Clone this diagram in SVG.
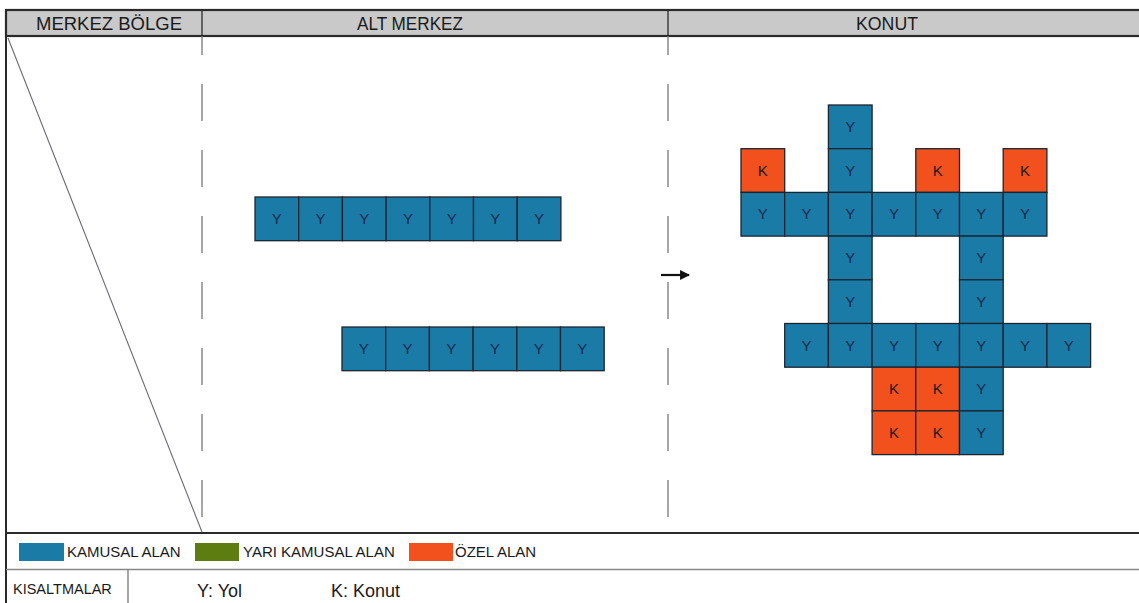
<svg xmlns="http://www.w3.org/2000/svg" width="1139" height="603" viewBox="0 0 1139 603">
<defs>
<style>
.hdr{fill:#c9c9c9;stroke:#2a2a2a;stroke-width:2.2}
.ht{font-family:"Liberation Sans",Arial,sans-serif;font-size:18px;fill:#1a1a1a;text-anchor:middle}
.frame{fill:none;stroke:#2a2a2a;stroke-width:2}
.dash{stroke:#777;stroke-width:1.3;stroke-dasharray:37 29;stroke-dashoffset:18;fill:none}
.y rect{fill:#1b7ba7;stroke:#1b2530;stroke-width:1.3}
.k rect{fill:#f2501d;stroke:#1b2530;stroke-width:1.3}
.y text{font-family:"Liberation Sans",Arial,sans-serif;font-size:15px;fill:#13284d;text-anchor:middle}
.k text{font-family:"Liberation Sans",Arial,sans-serif;font-size:15px;fill:#1a1a1a;text-anchor:middle}
.lt{font-family:"Liberation Sans",Arial,sans-serif;font-size:15px;fill:#1a1a1a}
.bt{font-family:"Liberation Sans",Arial,sans-serif;font-size:18px;fill:#1a1a1a}
</style>
<marker id="ah" viewBox="0 0 10 10" refX="9" refY="5" markerWidth="4.5" markerHeight="4.5" orient="auto">
<path d="M0,0 L10,5 L0,10 z" fill="#111"/>
</marker>
</defs>
<rect width="1139" height="603" fill="#ffffff"/>

<g id="header">
<rect class="hdr" x="6" y="10" width="1140" height="26"/>
<line x1="202" y1="10" x2="202" y2="36" stroke="#2a2a2a" stroke-width="1.3"/>
<line x1="668" y1="10" x2="668" y2="36" stroke="#2a2a2a" stroke-width="1.3"/>
<text class="ht" x="109" y="30" textLength="146" lengthAdjust="spacingAndGlyphs">MERKEZ BÖLGE</text>
<text class="ht" x="410" y="30" textLength="106" lengthAdjust="spacingAndGlyphs">ALT MERKEZ</text>
<text class="ht" x="887" y="30" textLength="62" lengthAdjust="spacingAndGlyphs">KONUT</text>
</g>

<g id="frame">
<line class="frame" x1="6" y1="36" x2="6" y2="603"/>
<line x1="5" y1="533" x2="1139" y2="533" stroke="#2a2a2a" stroke-width="2.2"/>
<line x1="6" y1="569.5" x2="1139" y2="569.5" stroke="#888" stroke-width="1.5"/>
<line x1="128" y1="569.5" x2="128" y2="603" stroke="#777" stroke-width="1.3"/>
<line x1="8" y1="38" x2="202" y2="532" stroke="#6a6a70" stroke-width="1.1"/>
<line class="dash" x1="202" y1="36" x2="202" y2="533"/>
<line class="dash" x1="668" y1="36" x2="668" y2="533"/>
</g>

<g id="alt-merkez-row1">
<g class="y"><rect x="255" y="197" width="43.7" height="43.7"/><text x="276.85" y="224">Y</text></g>
<g class="y"><rect x="298.7" y="197" width="43.7" height="43.7"/><text x="320.55" y="224">Y</text></g>
<g class="y"><rect x="342.4" y="197" width="43.7" height="43.7"/><text x="364.25" y="224">Y</text></g>
<g class="y"><rect x="386.1" y="197" width="43.7" height="43.7"/><text x="407.95" y="224">Y</text></g>
<g class="y"><rect x="429.8" y="197" width="43.7" height="43.7"/><text x="451.65" y="224">Y</text></g>
<g class="y"><rect x="473.5" y="197" width="43.7" height="43.7"/><text x="495.35" y="224">Y</text></g>
<g class="y"><rect x="517.2" y="197" width="43.7" height="43.7"/><text x="539.05" y="224">Y</text></g>
</g>

<g id="alt-merkez-row2">
<g class="y"><rect x="342" y="327" width="43.7" height="43.7"/><text x="363.85" y="354">Y</text></g>
<g class="y"><rect x="385.7" y="327" width="43.7" height="43.7"/><text x="407.55" y="354">Y</text></g>
<g class="y"><rect x="429.4" y="327" width="43.7" height="43.7"/><text x="451.25" y="354">Y</text></g>
<g class="y"><rect x="473.1" y="327" width="43.7" height="43.7"/><text x="494.95" y="354">Y</text></g>
<g class="y"><rect x="516.8" y="327" width="43.7" height="43.7"/><text x="538.65" y="354">Y</text></g>
<g class="y"><rect x="560.5" y="327" width="43.7" height="43.7"/><text x="582.35" y="354">Y</text></g>
</g>

<g id="connectors">
<line x1="661" y1="275" x2="689" y2="275" stroke="#111" stroke-width="2.2" marker-end="url(#ah)"/>
</g>

<g id="konut">
<g class="y"><rect x="828.4" y="105" width="43.7" height="43.7"/><text x="850.25" y="132">Y</text></g>

<g class="k"><rect x="741" y="148.7" width="43.7" height="43.7"/><text x="762.85" y="175.7">K</text></g>
<g class="y"><rect x="828.4" y="148.7" width="43.7" height="43.7"/><text x="850.25" y="175.7">Y</text></g>
<g class="k"><rect x="915.8" y="148.7" width="43.7" height="43.7"/><text x="937.65" y="175.7">K</text></g>
<g class="k"><rect x="1003.2" y="148.7" width="43.7" height="43.7"/><text x="1025.05" y="175.7">K</text></g>

<g class="y"><rect x="741" y="192.4" width="43.7" height="43.7"/><text x="762.85" y="219.4">Y</text></g>
<g class="y"><rect x="784.7" y="192.4" width="43.7" height="43.7"/><text x="806.55" y="219.4">Y</text></g>
<g class="y"><rect x="828.4" y="192.4" width="43.7" height="43.7"/><text x="850.25" y="219.4">Y</text></g>
<g class="y"><rect x="872.1" y="192.4" width="43.7" height="43.7"/><text x="893.95" y="219.4">Y</text></g>
<g class="y"><rect x="915.8" y="192.4" width="43.7" height="43.7"/><text x="937.65" y="219.4">Y</text></g>
<g class="y"><rect x="959.5" y="192.4" width="43.7" height="43.7"/><text x="981.35" y="219.4">Y</text></g>
<g class="y"><rect x="1003.2" y="192.4" width="43.7" height="43.7"/><text x="1025.05" y="219.4">Y</text></g>

<g class="y"><rect x="828.4" y="236.1" width="43.7" height="43.7"/><text x="850.25" y="263.1">Y</text></g>
<g class="y"><rect x="959.5" y="236.1" width="43.7" height="43.7"/><text x="981.35" y="263.1">Y</text></g>

<g class="y"><rect x="828.4" y="279.8" width="43.7" height="43.7"/><text x="850.25" y="306.8">Y</text></g>
<g class="y"><rect x="959.5" y="279.8" width="43.7" height="43.7"/><text x="981.35" y="306.8">Y</text></g>

<g class="y"><rect x="784.7" y="323.5" width="43.7" height="43.7"/><text x="806.55" y="350.5">Y</text></g>
<g class="y"><rect x="828.4" y="323.5" width="43.7" height="43.7"/><text x="850.25" y="350.5">Y</text></g>
<g class="y"><rect x="872.1" y="323.5" width="43.7" height="43.7"/><text x="893.95" y="350.5">Y</text></g>
<g class="y"><rect x="915.8" y="323.5" width="43.7" height="43.7"/><text x="937.65" y="350.5">Y</text></g>
<g class="y"><rect x="959.5" y="323.5" width="43.7" height="43.7"/><text x="981.35" y="350.5">Y</text></g>
<g class="y"><rect x="1003.2" y="323.5" width="43.7" height="43.7"/><text x="1025.05" y="350.5">Y</text></g>
<g class="y"><rect x="1046.9" y="323.5" width="43.7" height="43.7"/><text x="1068.75" y="350.5">Y</text></g>

<g class="k"><rect x="872.1" y="367.2" width="43.7" height="43.7"/><text x="893.95" y="394.2">K</text></g>
<g class="k"><rect x="915.8" y="367.2" width="43.7" height="43.7"/><text x="937.65" y="394.2">K</text></g>
<g class="y"><rect x="959.5" y="367.2" width="43.7" height="43.7"/><text x="981.35" y="394.2">Y</text></g>

<g class="k"><rect x="872.1" y="410.9" width="43.7" height="43.7"/><text x="893.95" y="437.9">K</text></g>
<g class="k"><rect x="915.8" y="410.9" width="43.7" height="43.7"/><text x="937.65" y="437.9">K</text></g>
<g class="y"><rect x="959.5" y="410.9" width="43.7" height="43.7"/><text x="981.35" y="437.9">Y</text></g>
</g>

<g id="legend">
<rect x="19" y="543" width="45" height="18" fill="#1b7ba7"/>
<text class="lt" x="67" y="557">KAMUSAL ALAN</text>
<rect x="195" y="543" width="44" height="18" fill="#5e7d10"/>
<text class="lt" x="243" y="557">YARI KAMUSAL ALAN</text>
<rect x="409" y="543" width="44" height="18" fill="#f2501d"/>
<text class="lt" x="455" y="557">ÖZEL ALAN</text>
</g>

<g id="abbreviations">
<text class="lt" x="13" y="594" style="font-size:14.5px">KISALTMALAR</text>
<text class="bt" x="197" y="597">Y: Yol</text>
<text class="bt" x="331" y="597">K: Konut</text>
</g>
</svg>
